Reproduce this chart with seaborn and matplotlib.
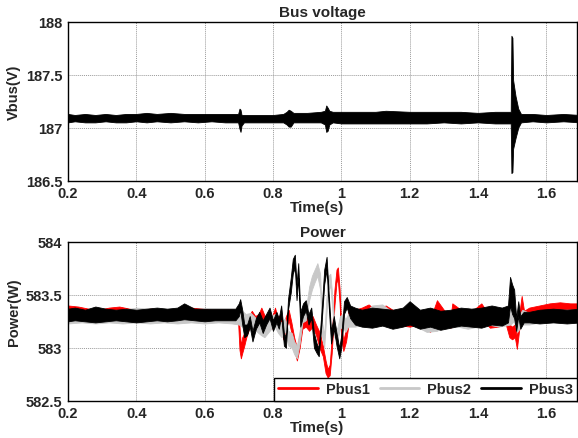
import numpy as np
import pandas as pd
import matplotlib
matplotlib.use("Agg")
import matplotlib.pyplot as plt
from matplotlib.lines import Line2D
import seaborn as sns

# ---------------- data ----------------
# Bus voltage: time, lower and upper edge of the (noisy) trace
vbus_t = [0.20, 0.22, 0.25, 0.28, 0.31, 0.34, 0.37, 0.40, 0.43, 0.46, 0.50, 0.54,
          0.58, 0.62, 0.66, 0.698, 0.702, 0.705, 0.708, 0.715, 0.75, 0.80, 0.83,
          0.840, 0.846, 0.852, 0.86, 0.90, 0.94, 0.952, 0.956, 0.960, 0.965, 0.975,
          1.00, 1.05, 1.10, 1.13, 1.20, 1.25, 1.30, 1.35, 1.40, 1.45, 1.49, 1.496,
          1.498, 1.501, 1.503, 1.510, 1.518, 1.526, 1.56, 1.60, 1.65, 1.70]
vbus_lo = [187.05, 187.06, 187.05, 187.05, 187.06, 187.05, 187.05, 187.06, 187.05, 187.06, 187.05, 187.06,
           187.05, 187.06, 187.05, 187.05, 186.99, 186.96, 187.02, 187.05, 187.05, 187.05, 187.05,
           187.03, 187.01, 187.01, 187.05, 187.05, 187.05, 187.03, 186.96, 186.97, 187.03, 187.05,
           187.04, 187.04, 187.04, 187.04, 187.04, 187.04, 187.05, 187.04, 187.05, 187.04, 187.04, 187.04,
           186.57, 186.58, 186.80, 186.90, 187.00, 187.05, 187.06, 187.05, 187.06, 187.05]
vbus_hi = [187.13, 187.12, 187.13, 187.12, 187.13, 187.12, 187.13, 187.13, 187.14, 187.13, 187.14, 187.13,
           187.13, 187.13, 187.13, 187.13, 187.18, 187.17, 187.12, 187.12, 187.12, 187.12, 187.13,
           187.15, 187.17, 187.16, 187.14, 187.14, 187.15, 187.16, 187.21, 187.19, 187.16, 187.15,
           187.15, 187.15, 187.15, 187.16, 187.15, 187.15, 187.15, 187.15, 187.14, 187.15, 187.15, 187.15,
           187.87, 187.85, 187.45, 187.30, 187.18, 187.13, 187.13, 187.12, 187.13, 187.12]

# Pbus1 (red)
p1_t = [0.20, 0.23, 0.26, 0.29, 0.32, 0.35, 0.38, 0.41, 0.44, 0.47, 0.50, 0.53, 0.56, 0.59,
        0.62, 0.65, 0.68, 0.698, 0.702, 0.706, 0.710, 0.716, 0.722, 0.730, 0.738, 0.748,
        0.758, 0.766, 0.776, 0.786, 0.796, 0.806, 0.814, 0.822, 0.830, 0.838, 0.846, 0.854,
        0.862, 0.870, 0.878, 0.886, 0.896, 0.906, 0.916, 0.926, 0.936, 0.946, 0.954, 0.960,
        0.966, 0.972, 0.980, 0.986, 0.990, 0.995, 1.000, 1.006, 1.014, 1.022, 1.04, 1.06,
        1.08, 1.10, 1.13, 1.16, 1.20, 1.23, 1.26, 1.28, 1.30, 1.32, 1.325, 1.35, 1.38, 1.41,
        1.435, 1.46, 1.48, 1.492, 1.500, 1.508, 1.514, 1.520, 1.528, 1.535, 1.55, 1.58, 1.61,
        1.64, 1.67, 1.70]
p1_lo = [583.27, 583.26, 583.25, 583.25, 583.26, 583.27, 583.25, 583.25, 583.26, 583.25, 583.25, 583.25, 583.26, 583.26,
         583.25, 583.26, 583.26, 583.24, 582.98, 582.90, 582.95, 583.02, 583.10, 583.18, 583.25, 583.20,
         583.22, 583.28, 583.20, 583.22, 583.18, 583.28, 583.18, 583.22, 583.08, 583.18, 583.26, 583.14,
         582.98, 582.88, 583.00, 583.18, 583.20, 583.16, 583.20, 583.12, 583.00, 582.92, 582.76, 582.72,
         582.74, 582.95, 583.40, 583.62, 583.64, 583.42, 583.08, 582.97, 583.06, 583.24, 583.24, 583.26,
         583.28, 583.24, 583.27, 583.22, 583.20, 583.22, 583.15, 583.30, 583.24, 583.19, 583.30, 583.24, 583.22, 583.28,
         583.19, 583.20, 583.24, 583.10, 583.08, 583.10, 582.99, 583.15, 583.35, 583.25, 583.27, 583.26, 583.27,
         583.26, 583.27, 583.26]
p1_hi = [583.40, 583.39, 583.37, 583.36, 583.38, 583.39, 583.37, 583.35, 583.37, 583.36, 583.36, 583.37, 583.38, 583.37,
         583.36, 583.36, 583.36, 583.36, 583.20, 583.02, 583.10, 583.14, 583.22, 583.30, 583.35, 583.30,
         583.32, 583.38, 583.30, 583.32, 583.28, 583.38, 583.28, 583.32, 583.22, 583.30, 583.36, 583.24,
         583.10, 583.00, 583.12, 583.30, 583.30, 583.26, 583.30, 583.22, 583.15, 583.02, 582.88, 582.80,
         582.84, 583.10, 583.55, 583.74, 583.76, 583.56, 583.20, 583.07, 583.18, 583.36, 583.36, 583.38,
         583.41, 583.36, 583.40, 583.34, 583.32, 583.34, 583.27, 583.45, 583.36, 583.30, 583.42, 583.36, 583.34, 583.42,
         583.30, 583.32, 583.35, 583.22, 583.20, 583.22, 583.10, 583.30, 583.49, 583.35, 583.38, 583.40, 583.42,
         583.43, 583.42, 583.42]

# Pbus2 (grey)
p2_t = [0.20, 0.24, 0.28, 0.32, 0.36, 0.40, 0.44, 0.48, 0.52, 0.56, 0.60, 0.64, 0.68, 0.70,
        0.71, 0.72, 0.735, 0.75, 0.765, 0.775, 0.785, 0.795, 0.805, 0.815, 0.825, 0.835, 0.845,
        0.855, 0.862, 0.870, 0.878, 0.886, 0.896, 0.906, 0.914, 0.922, 0.930, 0.938, 0.944,
        0.950, 0.956, 0.962, 0.968, 0.974, 0.980, 0.988, 0.996, 1.004, 1.012, 1.020, 1.04,
        1.07, 1.09, 1.12, 1.15, 1.19, 1.22, 1.25, 1.28, 1.31, 1.34, 1.37, 1.40, 1.43, 1.46,
        1.48, 1.495, 1.505, 1.515, 1.53, 1.55, 1.58, 1.62, 1.66, 1.70]
p2_lo = [583.23, 583.24, 583.23, 583.24, 583.23, 583.24, 583.23, 583.24, 583.23, 583.24, 583.23, 583.24, 583.23, 583.22,
         583.20, 583.18, 583.20, 583.16, 583.12, 583.10, 583.14, 583.18, 583.20, 583.14, 583.10, 583.16, 583.02,
         583.00, 582.94, 582.90, 583.04, 583.24, 583.26, 583.45, 583.55, 583.62, 583.68, 583.55, 583.10,
         583.00, 583.30, 583.55, 583.58, 583.35, 583.10, 583.06, 583.18, 583.20, 583.15, 583.20, 583.20,
         583.22, 583.28, 583.28, 583.22, 583.24, 583.20, 583.15, 583.16, 583.22, 583.20, 583.18, 583.20, 583.22, 583.20,
         583.21, 583.22, 583.25, 583.15, 583.22, 583.22, 583.24, 583.25, 583.25, 583.25]
p2_hi = [583.36, 583.35, 583.36, 583.35, 583.36, 583.38, 583.37, 583.36, 583.35, 583.36, 583.36, 583.35, 583.36, 583.36,
         583.35, 583.32, 583.33, 583.28, 583.24, 583.22, 583.26, 583.30, 583.32, 583.26, 583.24, 583.28, 583.16,
         583.14, 583.06, 583.02, 583.16, 583.34, 583.36, 583.58, 583.68, 583.74, 583.80, 583.70, 583.24,
         583.12, 583.45, 583.68, 583.70, 583.48, 583.22, 583.18, 583.30, 583.32, 583.27, 583.32, 583.33,
         583.34, 583.40, 583.41, 583.34, 583.38, 583.32, 583.28, 583.28, 583.35, 583.32, 583.38, 583.34, 583.34, 583.34,
         583.33, 583.38, 583.40, 583.28, 583.36, 583.33, 583.34, 583.36, 583.36, 583.36]

# Pbus3 (black)
p3_t = [0.20, 0.22, 0.25, 0.28, 0.31, 0.34, 0.37, 0.40, 0.43, 0.46, 0.49, 0.52, 0.54, 0.57,
        0.60, 0.63, 0.66, 0.69, 0.700, 0.704, 0.710, 0.716, 0.724, 0.732, 0.740, 0.750, 0.760,
        0.770, 0.780, 0.790, 0.800, 0.810, 0.817, 0.824, 0.832, 0.838, 0.844, 0.852, 0.858,
        0.864, 0.869, 0.874, 0.880, 0.888, 0.896, 0.904, 0.912, 0.920, 0.928, 0.934, 0.942,
        0.950, 0.957, 0.963, 0.970, 0.978, 0.986, 0.994, 1.000, 1.008, 1.016, 1.026, 1.04,
        1.06, 1.09, 1.12, 1.15, 1.18, 1.20, 1.23, 1.26, 1.29, 1.32, 1.35, 1.38, 1.41, 1.44,
        1.47, 1.488, 1.494, 1.500, 1.506, 1.512, 1.518, 1.524, 1.534, 1.55, 1.58, 1.62, 1.66, 1.70]
p3_lo = [583.25, 583.26, 583.25, 583.24, 583.25, 583.26, 583.25, 583.24, 583.25, 583.26, 583.25, 583.26, 583.27, 583.26,
         583.25, 583.26, 583.26, 583.26, 583.30, 583.36, 583.22, 583.10, 583.12, 583.20, 583.06, 583.18, 583.24,
         583.14, 583.22, 583.28, 583.16, 583.24, 583.18, 583.30, 583.02, 583.00, 583.36, 583.52, 583.70,
         583.76, 583.45, 583.66, 583.20, 583.30, 583.35, 583.22, 583.28, 583.00, 582.95, 582.92, 583.22,
         583.60, 583.74, 583.40, 583.04, 583.18, 583.02, 582.90, 583.00, 583.32, 583.38, 583.28, 583.22,
         583.20, 583.19, 583.21, 583.18, 583.20, 583.22, 583.18, 583.20, 583.17, 583.19, 583.21, 583.20, 583.19, 583.22,
         583.21, 583.24, 583.40, 583.32, 583.28, 583.16, 583.30, 583.18, 583.24, 583.24, 583.23, 583.24, 583.23, 583.24]
p3_hi = [583.37, 583.38, 583.36, 583.39, 583.37, 583.36, 583.37, 583.36, 583.37, 583.38, 583.37, 583.38, 583.42, 583.37,
         583.37, 583.37, 583.37, 583.37, 583.42, 583.46, 583.36, 583.22, 583.22, 583.30, 583.16, 583.28, 583.34,
         583.26, 583.32, 583.38, 583.26, 583.34, 583.28, 583.40, 583.14, 583.10, 583.46, 583.66, 583.84,
         583.88, 583.60, 583.80, 583.34, 583.42, 583.45, 583.32, 583.38, 583.14, 583.04, 583.00, 583.34,
         583.74, 583.86, 583.52, 583.16, 583.30, 583.14, 583.00, 583.12, 583.44, 583.48, 583.40, 583.38,
         583.36, 583.38, 583.37, 583.36, 583.38, 583.44, 583.36, 583.38, 583.35, 583.36, 583.38, 583.37, 583.38, 583.40,
         583.38, 583.40, 583.67, 583.60, 583.55, 583.28, 583.44, 583.30, 583.34, 583.34, 583.36, 583.37, 583.36, 583.37]

series_names = ["Pbus1", "Pbus2", "Pbus3"]
series_colors = ["#ff0000", "#c8c8c8", "#000000"]

x_ticks = [0.2, 0.4, 0.6, 0.8, 1.0, 1.2, 1.4, 1.6]
x_ticklabels = ["0.2", "0.4", "0.6", "0.8", "1", "1.2", "1.4", "1.6"]
v_ticks = [186.5, 187.0, 187.5, 188.0]
v_ticklabels = ["186.5", "187", "187.5", "188"]
p_ticks = [582.5, 583.0, 583.5, 584.0]
p_ticklabels = ["582.5", "583", "583.5", "584"]

# ---------------- style ----------------
sns.set_theme(style="white")
plt.rcParams["font.family"] = ["Liberation Sans", "DejaVu Sans"]
plt.rcParams["font.weight"] = "bold"

FS = 10.5


def band_frame(t, lo, hi):
    return pd.DataFrame({"t": list(t) + list(t), "v": list(lo) + list(hi)})


def draw_band(ax, t, lo, hi, color, z):
    sns.lineplot(data=band_frame(t, lo, hi), x="t", y="v", estimator="mean",
                 errorbar=("pi", 100), color=color, linewidth=0, zorder=z,
                 err_kws={"alpha": 1, "linewidth": 0.6, "edgecolor": color,
                          "zorder": z},
                 ax=ax)


def style_axes(ax, yticks, ylabels, ylim, title, ylabel):
    ax.set_xlim(0.2, 1.69)
    ax.set_ylim(*ylim)
    ax.set_xticks(x_ticks)
    ax.set_xticklabels(x_ticklabels, fontsize=FS, fontweight="bold")
    ax.set_yticks(yticks)
    ax.set_yticklabels(ylabels, fontsize=FS, fontweight="bold")
    ax.tick_params(direction="in", length=3, width=0.6, color="black", pad=4)
    ax.grid(True, color="#9a9a9a", linestyle=(0, (1, 1)), linewidth=0.7)
    ax.set_axisbelow(True)
    for s in ax.spines.values():
        s.set_visible(True)
        s.set_color("black")
        s.set_linewidth(1.0)
        s.set_zorder(10)
    ax.set_title(title, fontsize=11, fontweight="bold", pad=4)
    ax.set_xlabel("Time(s)", fontsize=11, fontweight="bold")
    ax.set_ylabel(ylabel, fontsize=10.5, fontweight="bold")
    ax.xaxis.set_label_coords(0.49, -0.168)
    ax.xaxis.label.set_verticalalignment("center")
    ax.yaxis.set_label_coords(-0.107, 0.565)
    ax.yaxis.label.set_verticalalignment("center")


fig = plt.figure(figsize=(5.78, 4.39), dpi=100)
fig.patch.set_facecolor("white")
ax1 = fig.add_axes([68 / 578, (439 - 181.5) / 439, 509 / 578, 158.5 / 439])
ax2 = fig.add_axes([68 / 578, (439 - 401.7) / 439, 509 / 578, 158.7 / 439])

draw_band(ax1, vbus_t, vbus_lo, vbus_hi, "black", 3)
style_axes(ax1, v_ticks, v_ticklabels, (186.5, 188.0), "Bus voltage", "Vbus(V)")

for i, ((t, lo, hi), c) in enumerate(zip([(p1_t, p1_lo, p1_hi), (p2_t, p2_lo, p2_hi),
                                          (p3_t, p3_lo, p3_hi)], series_colors)):
    draw_band(ax2, t, lo, hi, c, 3 + i)
style_axes(ax2, p_ticks, p_ticklabels, (582.5, 584.0), "Power", "Power(W)")

handles = [Line2D([0], [0], color=c, linewidth=2) for c in series_colors]
leg = ax2.legend(handles, series_names, loc="lower right", ncol=3, frameon=True,
                 fancybox=False, framealpha=1, edgecolor="black",
                 borderaxespad=0, handlelength=2.7, handletextpad=0.55,
                 columnspacing=0.7, borderpad=0.3,
                 prop={"family": "Liberation Sans", "weight": "bold", "size": 10.5})
leg.get_frame().set_linewidth(1.0)
leg.set_zorder(20)

fig.savefig("out.png", dpi=100, facecolor="white")
